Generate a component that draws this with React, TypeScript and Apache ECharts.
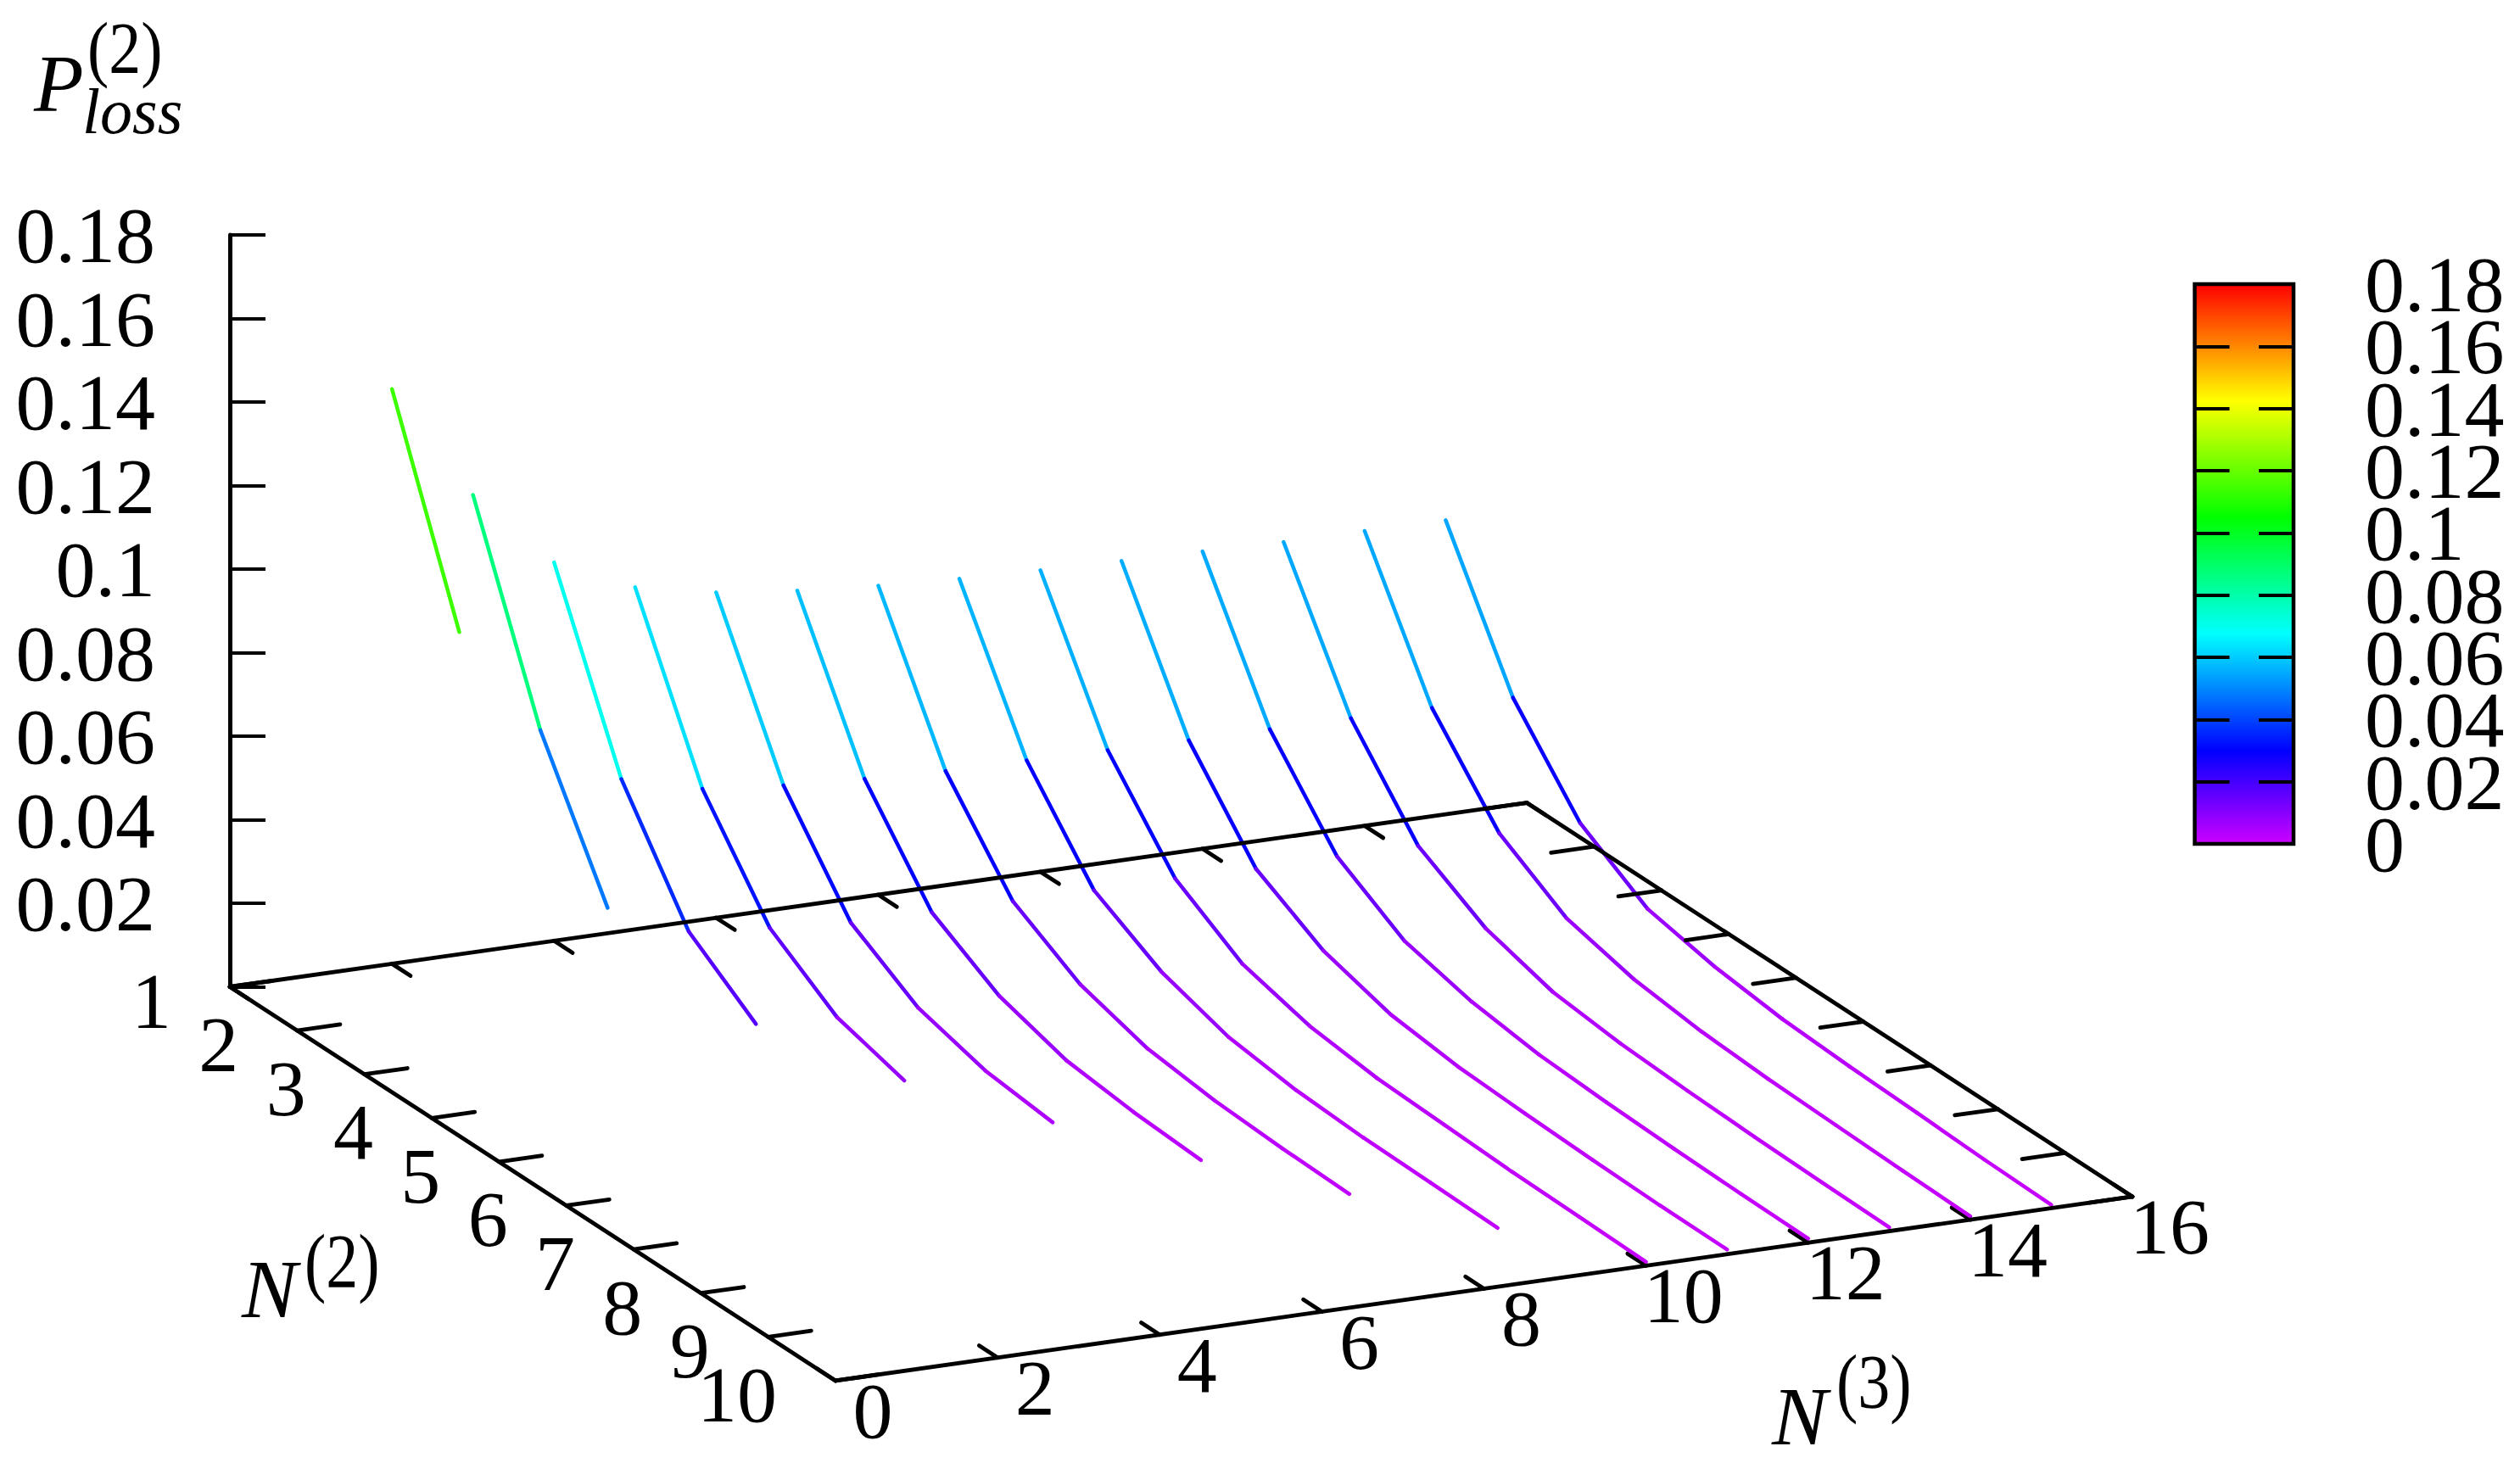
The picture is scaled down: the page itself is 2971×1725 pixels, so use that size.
import React, { useEffect, useRef } from "react";
import * as echarts from "echarts";

const FONT = "Liberation Serif";

// P_loss^(2) read per N^(3) line, one value per N^(2) = 1, 2, 3 ...
const lossN3_02 = [0.1376, 0.0899];
const lossN3_03 = [0.1095, 0.0637, 0.0316];
const lossN3_04 = [0.0906, 0.0492, 0.0232, 0.0115];
const lossN3_05 = [0.0819, 0.0441, 0.0213, 0.0104, 0.0057];
const lossN3_06 = [0.0779, 0.0422, 0.0198, 0.0099, 0.0053, 0.0034];
const lossN3_07 = [0.0756, 0.041, 0.0195, 0.01, 0.005, 0.0031, 0.0021];
const lossN3_08 = [0.074, 0.0401, 0.0194, 0.01, 0.0051, 0.0031, 0.0022, 0.0017];
const lossN3_09 = [0.0729, 0.0399, 0.0193, 0.0103, 0.0051, 0.0029, 0.002, 0.0017, 0.0013];
const lossN3_10 = [0.0722, 0.0396, 0.0194, 0.0094, 0.005, 0.003, 0.0023, 0.0016, 0.0013, 0.0009];
const lossN3_11 = [0.0717, 0.0392, 0.0189, 0.0098, 0.005, 0.003, 0.0022, 0.0016, 0.0012, 0.0011];
const lossN3_12 = [0.0712, 0.0391, 0.0191, 0.0094, 0.0053, 0.0031, 0.0022, 0.0016, 0.0012, 0.001];
const lossN3_13 = [0.0707, 0.039, 0.0189, 0.0097, 0.0049, 0.0031, 0.0022, 0.0016, 0.0012, 0.0009];
const lossN3_14 = [0.0706, 0.0387, 0.0192, 0.0093, 0.0052, 0.0032, 0.0022, 0.0017, 0.0012, 0.0008];
const lossN3_15 = [0.0704, 0.0384, 0.0188, 0.0088, 0.0054, 0.0034, 0.0025, 0.0019, 0.0012, 0.0008];

const n3Lines = [2, 3, 4, 5, 6, 7, 8, 9, 10, 11, 12, 13, 14, 15];
const lossLines = [
  lossN3_02, lossN3_03, lossN3_04, lossN3_05, lossN3_06, lossN3_07, lossN3_08,
  lossN3_09, lossN3_10, lossN3_11, lossN3_12, lossN3_13, lossN3_14, lossN3_15,
];
const n3Ticks = [0, 2, 4, 6, 8, 10, 12, 14, 16];
const n2Ticks = [1, 2, 3, 4, 5, 6, 7, 8, 9, 10];
const colorbarTicks = [0, 0.02, 0.04, 0.06, 0.08, 0.1, 0.12, 0.14, 0.16, 0.18];
const Z_MAX = 0.18;
const Z_STEP = 0.02;

// Oblique projection of the floor plane into the plot's own axis units.
const N2_X = 0.8302;
const N3_Y = 0.002753;
const N2_Y = -0.010477;
const project = (n3: number, n2: number, z: number) => [
  n3 + (n2 - 1) * N2_X,
  z + n3 * N3_Y + (n2 - 1) * N2_Y,
];

const hsv = (h: number) => {
  const f = (n: number) => {
    const k = (n + h / 60) % 6;
    return Math.round(255 * (1 - Math.max(0, Math.min(k, 4 - k, 1))));
  };
  return `rgb(${f(5)},${f(3)},${f(1)})`;
};
const colorOf = (z: number) => hsv(288 * (1 - Math.min(1, z / Z_MAX)));

const segmentData: number[][] = [];
n3Lines.forEach((n3, i) => {
  const vals = lossLines[i];
  for (let j = 0; j + 1 < vals.length; j++) {
    segmentData.push([n3, j + 1, vals[j], j + 2, vals[j + 1]]);
  }
});

const TICK_N2 = 0.275;
const TICK_N3 = 0.53;
const N3_MAX = n3Ticks[n3Ticks.length - 1];
const N2_MIN = n2Ticks[0];
const N2_MAX = n2Ticks[n2Ticks.length - 1];

const frontTickData = n3Ticks.map((t) => [t, N2_MAX, t, N2_MAX - TICK_N2]);
const frameData = [
  [0, N2_MIN, N3_MAX, N2_MIN],
  [0, N2_MAX, N3_MAX, N2_MAX],
  [0, N2_MIN, 0, N2_MAX],
  [N3_MAX, N2_MIN, N3_MAX, N2_MAX],
  ...n3Ticks.map((t) => [t, N2_MIN, t, N2_MIN + TICK_N2]),
  ...n2Ticks.map((t) => [0, t, TICK_N3, t]),
  ...n2Ticks.map((t) => [N3_MAX, t, N3_MAX - TICK_N3, t]),
];

const fmtZ = (v: number) => String(+v.toFixed(2));

const lineItem = (a: number[], b: number[], color: string, width: number) => ({
  type: "line",
  shape: { x1: a[0], y1: a[1], x2: b[0], y2: b[1] },
  style: { stroke: color, lineWidth: width, fill: null, lineCap: "round" },
  silent: true,
});

const segmentSeries = {
  type: "custom",
  xAxisIndex: 0,
  yAxisIndex: 0,
  z: 3,
  clip: false,
  silent: true,
  data: segmentData,
  renderItem: (_: any, api: any) => {
    const n3 = api.value(0);
    const z1 = api.value(2);
    const z2 = api.value(4);
    const a = api.coord(project(n3, api.value(1), z1));
    const b = api.coord(project(n3, api.value(3), z2));
    return lineItem(a, b, colorOf((z1 + z2) / 2), 4.5);
  },
};

const edgeSeries = (data: number[][], z: number) => ({
  type: "custom",
  xAxisIndex: 0,
  yAxisIndex: 0,
  z,
  clip: false,
  silent: true,
  data,
  renderItem: (_: any, api: any) => {
    const a = api.coord(project(api.value(0), api.value(1), 0));
    const b = api.coord(project(api.value(2), api.value(3), 0));
    return lineItem(a, b, "#000", 4.8);
  },
});

const tickText = (text: string, p: number[], dx: number, dy: number, align: string) => ({
  type: "text",
  x: p[0] + dx,
  y: p[1] + dy,
  silent: true,
  style: { text, fontFamily: FONT, fontSize: 94, fill: "#000", align, verticalAlign: "middle" },
});

const n3LabelSeries = {
  type: "custom",
  xAxisIndex: 0,
  yAxisIndex: 0,
  z: 5,
  clip: false,
  silent: true,
  data: n3Ticks.map((t) => [t]),
  renderItem: (_: any, api: any) => {
    const t = api.value(0);
    return tickText(String(t), api.coord(project(t, N2_MAX, 0)), 44, 35, "center");
  },
};

const n2LabelSeries = {
  type: "custom",
  xAxisIndex: 0,
  yAxisIndex: 0,
  z: 5,
  clip: false,
  silent: true,
  data: n2Ticks.map((t) => [t]),
  renderItem: (_: any, api: any) => {
    const t = api.value(0);
    return tickText(String(t), api.coord(project(0, t, 0)), -69, 16, "right");
  },
};

const colorbarLabelSeries = {
  type: "custom",
  xAxisIndex: 1,
  yAxisIndex: 2,
  z: 5,
  clip: false,
  silent: true,
  data: colorbarTicks.map((t) => [1, t]),
  renderItem: (_: any, api: any) => {
    const v = api.value(1);
    return tickText(fmtZ(v), api.coord([1, v]), 84, 0, "left");
  },
};

const piece = (text: string, x: number, y: number, size: number, italic: boolean, scaleY = 1) => ({
  type: "text",
  x,
  y,
  scaleY,
  silent: true,
  style: {
    text,
    fontFamily: FONT,
    fontSize: size,
    fontStyle: italic ? "italic" : "normal",
    fill: "#000",
    align: "left",
    verticalAlign: "middle",
  },
});

const barStops = [
  [0, 288],
  [1 / 6, 240],
  [3 / 8, 180],
  [7 / 12, 120],
  [19 / 24, 60],
  [1, 0],
];

const hiddenX = (gridIndex: number, max: number) => ({
  type: "value",
  gridIndex,
  min: 0,
  max,
  show: false,
});

const barAxis = (position: string) => ({
  type: "value",
  gridIndex: 1,
  position,
  min: 0,
  max: Z_MAX,
  interval: Z_STEP,
  splitLine: { show: false },
  axisLine: { show: false, onZero: false },
  axisTick: { show: true, inside: true, length: 41, lineStyle: { color: "#000", width: 4 } },
  axisLabel: { show: false },
});

const option: any = {
  animation: false,
  backgroundColor: "#fff",
  grid: [
    { left: 271, top: 277, width: 1529, height: 886.5, show: false, containLabel: false },
    {
      left: 2587.5,
      top: 335,
      width: 116.5,
      height: 660,
      show: true,
      borderColor: "#000",
      borderWidth: 4.5,
      backgroundColor: new echarts.graphic.LinearGradient(
        0, 1, 0, 0,
        barStops.map(([offset, h]) => ({ offset, color: hsv(h) }))
      ),
    },
  ],
  xAxis: [hiddenX(0, N3_MAX), hiddenX(1, 1)],
  yAxis: [
    {
      type: "value",
      gridIndex: 0,
      position: "left",
      min: 0,
      max: Z_MAX,
      interval: Z_STEP,
      splitLine: { show: false },
      axisLine: { show: true, onZero: false, lineStyle: { color: "#000", width: 5 } },
      axisTick: { show: true, inside: true, length: 42, lineStyle: { color: "#000", width: 4 } },
      axisLabel: {
        show: true,
        margin: 88,
        fontFamily: FONT,
        fontSize: 94,
        color: "#000",
        formatter: (v: number) => (v === 0 ? "" : fmtZ(v)),
      },
    },
    barAxis("left"),
    barAxis("right"),
  ],
  graphic: [
    piece("P", 40, 98, 96, true),
    piece("(2)", 103, 57, 76, false, 1.14),
    piece("loss", 97, 131, 76, true),
    piece("N", 285, 1520, 98, true),
    piece("(2)", 359, 1487, 76, false, 1.2),
    piece("N", 2089, 1669.5, 98, true),
    piece("(3)", 2165, 1629, 76, false, 1.2),
  ],
  series: [
    edgeSeries(frontTickData, 2),
    segmentSeries,
    edgeSeries(frameData, 4),
    n3LabelSeries,
    n2LabelSeries,
    colorbarLabelSeries,
  ],
};

export default function App() {
  const ref = useRef<HTMLDivElement>(null);
  useEffect(() => {
    document.body.style.margin = "0";
    const chart = echarts.init(ref.current!, null, { renderer: "svg" });
    chart.setOption(option);
    return () => chart.dispose();
  }, []);
  return <div ref={ref} style={{ position: "fixed", left: 0, top: 0, width: 2971, height: 1725 }} />;
}
